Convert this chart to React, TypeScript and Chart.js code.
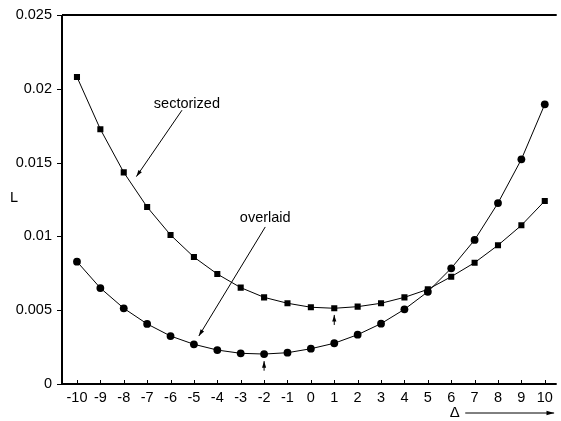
import React, { useEffect, useRef } from "react";
import { Chart, registerables } from "chart.js";

Chart.register(...registerables);

const deltas = [-10, -9, -8, -7, -6, -5, -4, -3, -2, -1, 0, 1, 2, 3, 4, 5, 6, 7, 8, 9, 10];
const sectorized = [0.0208, 0.01726, 0.01434, 0.01199, 0.0101, 0.0086, 0.00745, 0.00653, 0.00587, 0.00547, 0.0052, 0.00513, 0.00524, 0.00547, 0.00587, 0.00641, 0.00727, 0.00822, 0.0094, 0.01075, 0.0124];
const overlaid = [0.00829, 0.0065, 0.00513, 0.00407, 0.00325, 0.00269, 0.0023, 0.00208, 0.00203, 0.00212, 0.00239, 0.00276, 0.00334, 0.00409, 0.00506, 0.00625, 0.00784, 0.00976, 0.01226, 0.01522, 0.01895];
const xTickLabels = ["-10", "-9", "-8", "-7", "-6", "-5", "-4", "-3", "-2", "-1", "0", "1", "2", "3", "4", "5", "6", "7", "8", "9", "10"];
const yTickValues = [0, 0.005, 0.01, 0.015, 0.02, 0.025];
const yTickLabels = ["0", "0.005", "0.01", "0.015", "0.02", "0.025"];

// annotations in data units
const labelTexts = [
  { text: "sectorized", x: -5.3, y: 0.019 },
  { text: "overlaid", x: -1.95, y: 0.01127 },
];
const arrows = [
  { x1: -5.51, y1: 0.01855, x2: -7.46, y2: 0.01405 },
  { x1: -1.95, y1: 0.01064, x2: -4.79, y2: 0.00325 },
  { x1: -2, y1: 0.0009, x2: -2, y2: 0.00155 },
  { x1: 1, y1: 0.0040, x2: 1, y2: 0.00468 },
];

const FONT = "'Liberation Sans', Arial, Helvetica, sans-serif";
const FSIZE = 14.5;

const decorPlugin = {
  id: "decor",
  afterDraw(chart: any) {
    const { ctx, chartArea } = chart;
    const xs = chart.scales.x;
    const ys = chart.scales.y;
    ctx.save();
    ctx.strokeStyle = "#000";
    ctx.fillStyle = "#000";
    // axes frame
    ctx.lineWidth = 2;
    ctx.beginPath();
    ctx.moveTo(chartArea.left, chartArea.top);
    ctx.lineTo(chartArea.right, chartArea.top);
    ctx.moveTo(chartArea.left, chartArea.top);
    ctx.lineTo(chartArea.left, chartArea.bottom);
    ctx.lineTo(chartArea.right, chartArea.bottom);
    ctx.stroke();
    // ticks
    ctx.lineWidth = 1;
    ctx.beginPath();
    yTickValues.forEach((v) => {
      const py = Math.round(ys.getPixelForValue(v)) + 0.5;
      ctx.moveTo(chartArea.left - 5, py);
      ctx.lineTo(chartArea.left, py);
    });
    deltas.forEach((d) => {
      const px = Math.round(xs.getPixelForValue(d)) + 0.5;
      ctx.moveTo(px, chartArea.bottom);
      ctx.lineTo(px, chartArea.bottom - 4);
    });
    ctx.stroke();

    // annotation labels
    ctx.font = `${FSIZE}px ${FONT}`;
    ctx.textAlign = "center";
    ctx.textBaseline = "middle";
    labelTexts.forEach((l) => {
      ctx.fillText(l.text, xs.getPixelForValue(l.x), ys.getPixelForValue(l.y));
    });
    // arrows
    const drawArrow = (x1: number, y1: number, x2: number, y2: number, head: number) => {
      ctx.beginPath();
      ctx.moveTo(x1, y1);
      ctx.lineTo(x2, y2);
      ctx.stroke();
      const ang = Math.atan2(y2 - y1, x2 - x1);
      ctx.beginPath();
      ctx.moveTo(x2, y2);
      ctx.lineTo(x2 - head * Math.cos(ang - 0.3), y2 - head * Math.sin(ang - 0.3));
      ctx.lineTo(x2 - head * Math.cos(ang + 0.3), y2 - head * Math.sin(ang + 0.3));
      ctx.closePath();
      ctx.fill();
    };
    arrows.forEach((a) => {
      drawArrow(
        xs.getPixelForValue(a.x1), ys.getPixelForValue(a.y1),
        xs.getPixelForValue(a.x2), ys.getPixelForValue(a.y2), 7
      );
    });

    // y title "L"
    ctx.fillText("L", 14, ys.getPixelForValue(0.0126));

    // x title Δ with arrow
    const dy = chartArea.bottom + 29;
    ctx.font = `15px ${FONT}`;
    ctx.fillText("\u0394", xs.getPixelForValue(6.15), dy);
    drawArrow(xs.getPixelForValue(6.6), dy, xs.getPixelForValue(10.4), dy, 8);
    ctx.restore();
  },
};

export default function App() {
  const ref = useRef<HTMLCanvasElement | null>(null);
  useEffect(() => {
    if (!ref.current) return;
    const chart = new Chart(ref.current, {
      type: "line",
      data: {
        datasets: [
          {
            label: "sectorized",
            data: deltas.map((d, i) => ({ x: d, y: sectorized[i] })),
            borderColor: "#000",
            backgroundColor: "#000",
            borderWidth: 1,
            pointStyle: "rect",
            pointRadius: 4.3,
            pointBorderWidth: 0,
            tension: 0,
          },
          {
            label: "overlaid",
            data: deltas.map((d, i) => ({ x: d, y: overlaid[i] })),
            borderColor: "#000",
            backgroundColor: "#000",
            borderWidth: 1,
            pointStyle: "circle",
            pointRadius: 3.9,
            pointBorderWidth: 0,
            tension: 0,
          },
        ],
      },
      options: {
        responsive: false,
        animation: false,
        layout: { padding: { top: 15, left: 0, right: 0, bottom: 0 } },
        plugins: { legend: { display: false }, tooltip: { enabled: false } },
        scales: {
          x: {
            type: "linear",
            min: -10.64,
            max: 10.51,
            grid: { display: false, drawTicks: false },
            border: { display: false },
            afterBuildTicks: (s: any) => {
              s.ticks = deltas.map((d) => ({ value: d }));
            },
            afterFit: (s: any) => {
              s.height = 37;
              s.paddingLeft = 0;
              s.paddingRight = 0;
            },
            ticks: {
              color: "#000",
              font: { family: FONT, size: FSIZE },
              padding: 5,
              maxRotation: 0,
              autoSkip: false,
              callback: (v: any) => {
                const i = deltas.indexOf(Number(v));
                return i >= 0 ? xTickLabels[i] : "";
              },
            },
          },
          y: {
            type: "linear",
            min: 0,
            max: 0.025,
            grid: { display: false, drawTicks: false },
            border: { display: false },
            afterBuildTicks: (s: any) => {
              s.ticks = yTickValues.map((v) => ({ value: v }));
            },
            afterFit: (s: any) => {
              s.width = 62;
              s.paddingTop = 0;
              s.paddingBottom = 0;
            },
            ticks: {
              color: "#000",
              font: { family: FONT, size: FSIZE },
              padding: 10,
              callback: (v: any) => {
                const i = yTickValues.findIndex((t) => Math.abs(t - Number(v)) < 1e-9);
                return i >= 0 ? yTickLabels[i] : "";
              },
            },
          },
        },
      },
      plugins: [decorPlugin],
    } as any);
    return () => chart.destroy();
  }, []);
  return (
    <div style={{ position: "absolute", left: 0, top: 0, width: 561, height: 421, background: "#fff" }}>
      <canvas ref={ref} width={561} height={421} style={{ display: "block" }} />
    </div>
  );
}
